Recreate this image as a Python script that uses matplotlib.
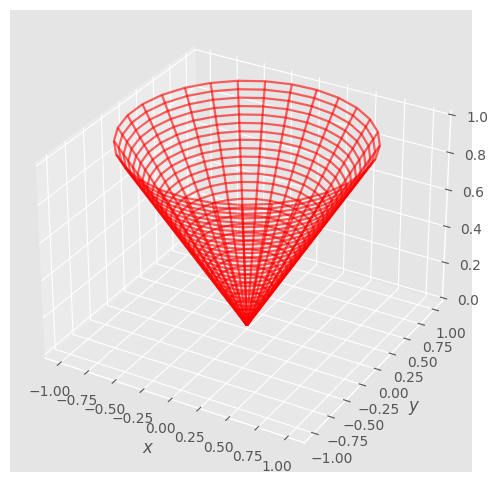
import numpy as np
import matplotlib
matplotlib.use("Agg")
import matplotlib.pyplot as plt

plt.style.use("ggplot")

radii = [0.0, 0.0345, 0.0690, 0.1034, 0.1379, 0.1724, 0.2069, 0.2414, 0.2759, 0.3103,
         0.3448, 0.3793, 0.4138, 0.4483, 0.4828, 0.5172, 0.5517, 0.5862, 0.6207, 0.6552,
         0.6897, 0.7241, 0.7586, 0.7931, 0.8276, 0.8621, 0.8966, 0.9310, 0.9655, 1.0]
angles_deg = [0, 12.41, 24.83, 37.24, 49.66, 62.07, 74.48, 86.90, 99.31, 111.72,
              124.14, 136.55, 148.97, 161.38, 173.79, 186.21, 198.62, 211.03, 223.45, 235.86,
              248.28, 260.69, 273.10, 285.52, 297.93, 310.34, 322.76, 335.17, 347.59, 360]
tick_values = [-1.0, -0.75, -0.5, -0.25, 0.0, 0.25, 0.5, 0.75, 1.0]

R, T = np.meshgrid(radii, np.radians(angles_deg))
X = R * np.cos(T)
Y = R * np.sin(T)
Z = R

fig = plt.figure(figsize=(4.98, 4.84), dpi=100)
ax = fig.add_axes([1 / 498, 12 / 484, 480 / 498, 462 / 484], projection="3d")
ax.plot_wireframe(X, Y, Z, color="red", alpha=0.6, linewidth=1.6, rstride=1, cstride=1)
ax.set_xlabel("$x$")
ax.set_ylabel("$y$")
ax.set_xticks(tick_values)
ax.set_yticks(tick_values)
fig.savefig("out.png", dpi=100)
